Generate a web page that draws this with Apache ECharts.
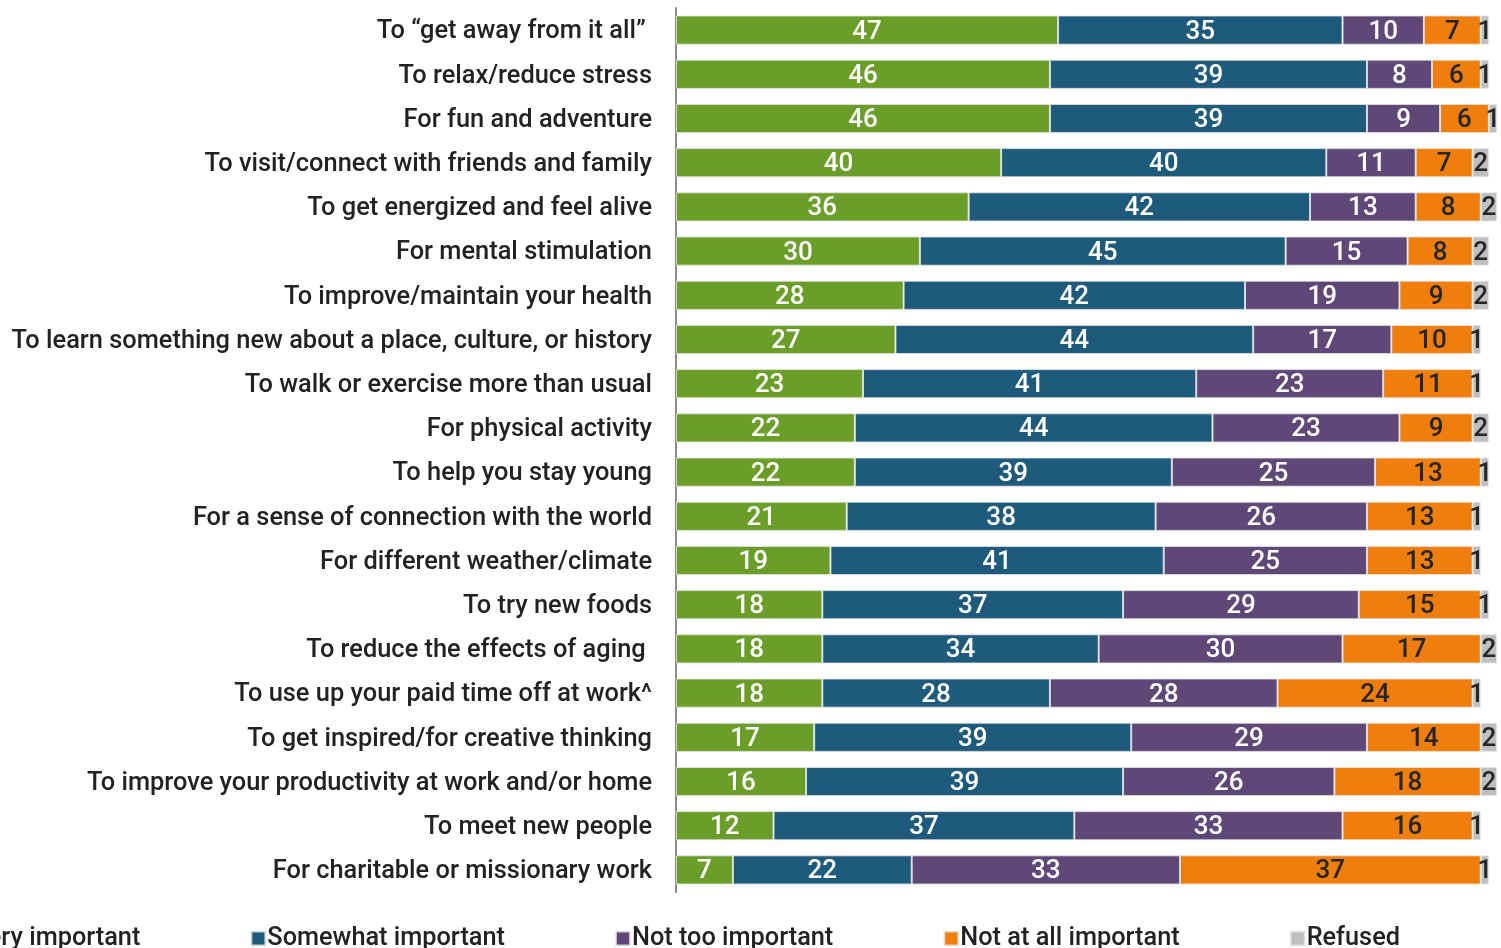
<!DOCTYPE html>
<html>
<head>
<meta charset="utf-8">
<script src="https://cdn.jsdelivr.net/npm/echarts@6/dist/echarts.min.js"></script>
<style>
html,body{margin:0;padding:0;background:#fff;}
#chart{width:1501px;height:948px;}
</style>
</head>
<body>
<div id="chart"></div>
<script>
// Reasons for travelling, share of respondents (%)
const categories = [
  'To \u201cget away from it all\u201d ',
  'To relax/reduce stress',
  'For fun and adventure',
  'To visit/connect with friends and family',
  'To get energized and feel alive',
  'For mental stimulation',
  'To improve/maintain your health',
  'To learn something new about a place, culture, or history',
  'To walk or exercise more than usual',
  'For physical activity',
  'To help you stay young',
  'For a sense of connection with the world',
  'For different weather/climate',
  'To try new foods',
  'To reduce the effects of aging ',
  'To use up your paid time off at work^',
  'To get inspired/for creative thinking',
  'To improve your productivity at work and/or home',
  'To meet new people',
  'For charitable or missionary work'
];
const veryImportant     = [47,46,46,40,36,30,28,27,23,22,22,21,19,18,18,18,17,16,12,7];
const somewhatImportant = [35,39,39,40,42,45,42,44,41,44,39,38,41,37,34,28,39,39,37,22];
const notTooImportant   = [10,8,9,11,13,15,19,17,23,23,25,26,25,29,30,28,29,26,33,33];
const notAtAllImportant = [7,6,6,7,8,8,9,10,11,9,13,13,13,15,17,24,14,18,16,37];
const refused           = [1,1,1,2,2,2,2,1,1,2,1,1,1,1,2,1,2,2,1,1];

const FONT = 'Roboto, Liberation Sans, Arial, sans-serif';

const seriesDefs = [
  {name:'Very important',     data:veryImportant,     color:'#6a9e29', text:'#ffffff'},
  {name:'Somewhat important', data:somewhatImportant, color:'#1e5a7b', text:'#ffffff'},
  {name:'Not too important',  data:notTooImportant,   color:'#5f4878', text:'#ffffff'},
  {name:'Not at all important', data:notAtAllImportant, color:'#ef7e0c', text:'#262626'},
  {name:'Refused',            data:refused,           color:'#bfbfbf', text:'#262626'}
];

const chart = echarts.init(document.getElementById('chart'));
chart.setOption({
  animation:false,
  textStyle:{fontFamily:FONT},
  grid:{left:676, top:8, bottom:56, width:821, containLabel:false},
  xAxis:{type:'value', min:0, max:101, show:false},
  yAxis:{
    type:'category', data:categories, inverse:true,
    axisLine:{show:true, lineStyle:{color:'#8c8c8c', width:2}},
    axisTick:{show:false},
    axisLabel:{
      margin:24,
      formatter:v => '{c|' + v + '}',
      rich:{c:{color:'#222', fontSize:25.4, fontWeight:500, fontFamily:FONT, padding:[4,0,0,0]}}
    }
  },
  legend:{
    left:-50, top:921, itemGap:110, itemWidth:14, itemHeight:14,
    icon:'rect',
    textStyle:{color:'#222', fontSize:25.3, fontWeight:500, fontFamily:FONT, padding:[0,0,0,-3]},
    data:seriesDefs.map(s=>s.name)
  },
  series:seriesDefs.map(s=>({
    name:s.name, type:'bar', stack:'total', data:s.data,
    barWidth:'66%',
    itemStyle:{color:s.color, borderColor:'rgba(230,230,230,0.8)', borderWidth:1},
    label:{show:true, position:'inside', offset:[0,2], color:s.text, fontSize:26, fontWeight:500,
      fontFamily:FONT}
  }))
});
</script>
</body>
</html>
